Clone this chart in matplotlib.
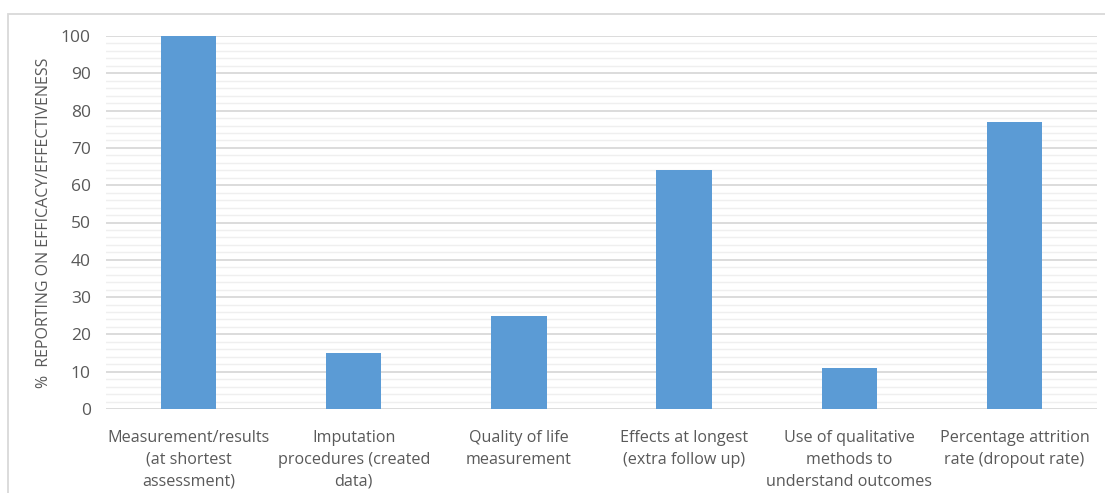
import matplotlib
matplotlib.use("Agg")
import matplotlib.pyplot as plt
from matplotlib.patches import Rectangle
from matplotlib.ticker import MultipleLocator

categories = [
    "Measurement/results\n(at shortest\nassessment)",
    "Imputation\nprocedures (created\ndata)",
    "Quality of life\nmeasurement",
    "Effects at longest\n(extra follow up)",
    "Use of qualitative\nmethods to\nunderstand outcomes",
    "Percentage attrition\nrate (dropout rate)",
]
values = [100, 15, 25, 64, 11, 77]
y_label = "%  REPORTING ON EFFICACY/EFFECTIVENESS"

plt.rcParams['font.family'] = ['Open Sans', 'DejaVu Sans']
text_color = "#595959"

fig = plt.figure(figsize=(11.05, 4.93), dpi=100)
fig.patch.set_facecolor("white")
ax = fig.add_axes([106/1105, 1-409/493, (1097-106)/1105, (409-36)/493])

x = list(range(len(categories)))
ax.bar(x, values, width=0.335, color="#5B9BD5", zorder=3)

ax.set_xlim(-0.5, len(categories) - 0.5)
ax.set_ylim(0, 100)
ax.yaxis.set_major_locator(MultipleLocator(10))
ax.yaxis.set_minor_locator(MultipleLocator(2))
ax.grid(which="major", axis="y", color="#d9d9d9", linewidth=1.3, zorder=0)
ax.grid(which="minor", axis="y", color="#efefef", linewidth=1.0, zorder=0)
ax.set_axisbelow(True)
for s in ax.spines.values():
    s.set_visible(False)
ax.set_xticks(x)
ax.set_xticklabels(categories, fontsize=11.6, color=text_color, linespacing=1.5)
ax.tick_params(axis="x", length=0, pad=15)
ax.tick_params(axis="y", which="both", length=0, pad=11, labelsize=12.5, labelcolor=text_color)
ax.set_ylabel(y_label, fontsize=11.5, color=text_color)
ax.yaxis.set_label_coords((52-106)/991, 0.5)

border = Rectangle((8/1105, -0.1), 1.2, 1 - 14/493 + 0.1, transform=fig.transFigure,
                   fill=False, edgecolor="#d9d9d9", linewidth=1.3, clip_on=False)
fig.add_artist(border)

fig.savefig("out.png", dpi=100)
